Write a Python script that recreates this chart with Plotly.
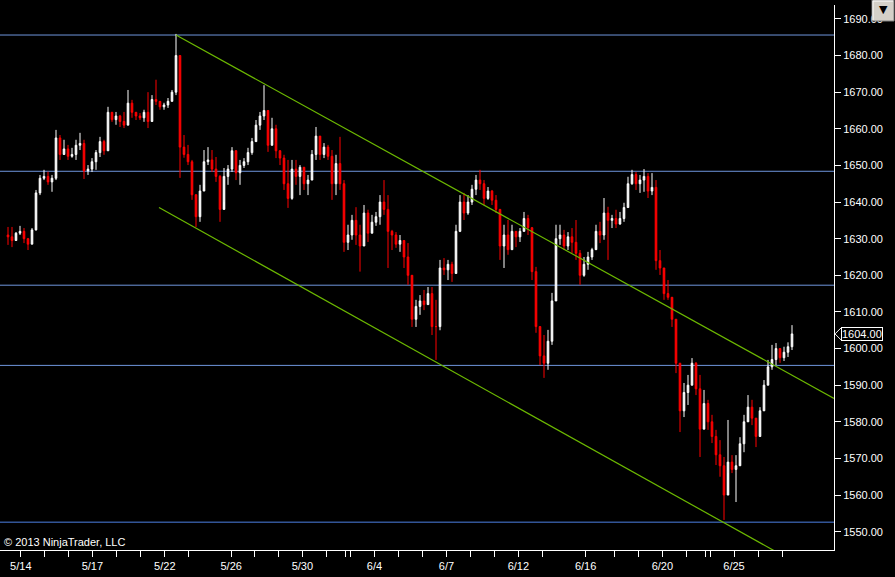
import plotly.graph_objects as go

# ES futures, 4-hour bars, 5/13 .. 6/27
highs = [
    1633.2, 1633.2, 1631.8, 1633.5, 1632.9, 1630.2, 1632.9, 1643.3, 1647.4, 1648.8,
    1648.3, 1647.4, 1659.7, 1658.3, 1657.0, 1655.6, 1654.8, 1657.0, 1658.9, 1657.0,
    1650.1, 1652.0, 1654.2, 1657.8, 1657.0, 1666.0, 1664.6, 1664.6, 1663.8, 1664.6,
    1670.6, 1667.9, 1664.6,
    1664.3, 1665.2, 1670.0, 1669.2, 1673.4, 1667.1, 1667.1, 1668.4, 1670.6, 1685.9,
    1680.0, 1658.3, 1655.6, 1651.5, 1641.9, 1644.7, 1654.2, 1655.0, 1654.2, 1652.3,
    1647.4, 1649.3, 1650.1, 1655.0, 1654.2, 1651.5, 1652.0, 1654.8, 1657.5, 1662.4,
    1664.6, 1671.9, 1663.8, 1663.0,
    1661.1, 1654.2, 1652.9, 1651.5, 1651.5, 1651.5, 1650.1, 1648.8, 1647.4, 1654.2,
    1660.5, 1657.0, 1656.1, 1655.6, 1654.2, 1652.9, 1657.8, 1646.0, 1633.8, 1636.5,
    1638.6, 1633.8, 1639.2, 1637.9, 1636.5, 1637.3, 1641.9, 1646.0, 1641.9, 1632.4,
    1631.8, 1631.0, 1628.8,
    1628.8, 1619.6, 1613.3, 1614.6, 1616.0, 1616.8, 1616.8, 1613.3, 1624.2, 1624.7,
    1624.2, 1623.7, 1633.8, 1641.9, 1642.5, 1641.9, 1644.7, 1647.4, 1648.8, 1646.0,
    1644.1, 1643.3, 1641.9, 1637.9, 1633.8, 1635.1, 1633.8, 1631.6, 1632.9, 1637.3,
    1636.5, 1633.2, 1622.3, 1606.0,
    1603.7, 1605.1, 1615.2, 1633.8, 1633.8, 1632.4, 1631.8, 1632.9, 1635.1, 1626.9,
    1625.0, 1626.4, 1627.5, 1633.8, 1634.6, 1641.1, 1638.7, 1636.5, 1637.9, 1637.3,
    1639.8, 1646.9, 1648.8, 1648.2, 1647.4, 1649.0, 1647.9, 1647.9, 1646.0, 1626.9,
    1619.6, 1618.7, 1613.3, 1608.0, 1596.0,
    1590.6, 1592.8, 1597.4, 1596.3, 1592.8, 1588.7, 1586.0, 1581.9, 1577.8, 1575.0,
    1570.4, 1580.5, 1570.9, 1570.9, 1575.8, 1581.9, 1587.3, 1586.0, 1580.5, 1584.0,
    1591.4, 1596.9, 1601.0, 1601.5, 1599.6, 1600.5, 1601.7, 1606.4,
]
lows = [
    1628.3, 1627.7, 1629.7, 1631.0, 1628.8, 1626.9, 1628.5, 1632.2, 1641.9, 1646.0,
    1644.7, 1642.8, 1646.0, 1651.5, 1652.9, 1651.5, 1652.1, 1651.5, 1654.2, 1646.3,
    1647.4, 1648.2, 1648.8, 1652.3, 1652.9, 1654.0, 1661.9, 1661.1, 1660.5, 1660.2,
    1661.0, 1663.0, 1662.4,
    1662.4, 1661.9, 1660.2, 1662.4, 1666.5, 1665.2, 1665.2, 1665.7, 1667.9, 1669.2,
    1646.6, 1652.1, 1650.1, 1640.6, 1633.2, 1634.6, 1644.7, 1650.1, 1648.2, 1645.5,
    1634.6, 1640.0, 1644.7, 1648.2, 1646.0, 1644.7, 1649.3, 1650.1, 1652.9, 1657.0,
    1659.7, 1662.4, 1653.7, 1657.0,
    1652.0, 1650.1, 1643.3, 1638.4, 1640.6, 1644.7, 1641.9, 1643.3, 1641.9, 1646.9,
    1651.5, 1651.5, 1652.0, 1651.5, 1640.6, 1641.9, 1643.3, 1626.4, 1626.9, 1629.7,
    1628.3, 1621.0, 1628.0, 1629.1, 1632.9, 1633.5, 1633.8, 1636.5, 1622.0, 1626.9,
    1627.5, 1626.4, 1622.0,
    1617.4, 1605.9, 1605.9, 1609.2, 1610.5, 1611.9, 1603.7, 1596.9, 1605.0, 1620.1,
    1618.7, 1618.2, 1621.5, 1631.8, 1635.1, 1636.5, 1639.2, 1641.9, 1643.3, 1639.2,
    1640.6, 1639.2, 1637.0, 1624.2, 1622.0, 1625.6, 1626.9, 1627.7, 1629.1, 1632.4,
    1631.0, 1618.7, 1604.3, 1595.5,
    1592.0, 1594.2, 1601.0, 1616.0, 1628.3, 1626.9, 1626.9, 1626.1, 1624.2, 1617.4,
    1619.6, 1621.5, 1624.2, 1628.3, 1628.8, 1629.7, 1624.2, 1632.9, 1632.9, 1633.8,
    1634.6, 1638.5, 1644.7, 1643.3, 1642.5, 1642.8, 1641.1, 1641.9, 1621.5, 1620.1,
    1613.3, 1613.3, 1605.9, 1593.3, 1577.2,
    1581.3, 1584.6, 1590.1, 1587.3, 1570.4, 1579.1, 1577.8, 1574.2, 1568.2, 1565.0,
    1553.2, 1566.0, 1566.0, 1558.1, 1569.6, 1571.7, 1580.5, 1579.1, 1573.1, 1575.9,
    1583.2, 1590.0, 1594.2, 1595.5, 1596.1, 1596.6, 1597.7, 1599.6,
]
closes = [
    1630.5, 1629.5, 1631.5, 1632.0, 1630.0, 1628.5, 1632.4, 1642.5, 1646.5, 1647.0,
    1645.5, 1646.5, 1657.5, 1653.0, 1654.5, 1652.5, 1653.0, 1655.5, 1656.0, 1648.5,
    1649.0, 1651.0, 1653.5, 1656.5, 1654.0, 1664.5, 1662.5, 1663.5, 1662.0, 1661.0,
    1667.0, 1664.5, 1663.5,
    1663.0, 1664.5, 1662.0, 1668.0, 1667.5, 1666.0, 1666.5, 1667.5, 1670.0, 1680.0,
    1655.0, 1653.0, 1651.0, 1642.0, 1636.0, 1643.0, 1651.0, 1651.5, 1649.0, 1647.0,
    1638.0, 1647.0, 1649.0, 1654.0, 1648.0, 1650.0, 1651.0, 1653.5, 1656.5, 1661.0,
    1663.5, 1665.0, 1655.5, 1660.0,
    1654.0, 1652.0, 1645.0, 1641.0, 1649.0, 1647.0, 1649.5, 1645.0, 1646.0, 1653.0,
    1658.0, 1653.0, 1655.0, 1652.5, 1645.0, 1650.5, 1645.0, 1629.0, 1631.0, 1635.0,
    1631.0, 1628.0, 1637.0, 1631.5, 1634.5, 1636.0, 1640.0, 1638.0, 1632.0, 1631.0,
    1628.5, 1629.5, 1625.0,
    1620.0, 1608.0, 1611.5, 1613.0, 1612.0, 1615.0, 1606.0, 1606.0, 1622.0, 1621.5,
    1623.0, 1620.5, 1632.0, 1640.0, 1637.0, 1640.0, 1643.5, 1646.0, 1645.0, 1641.0,
    1643.0, 1640.5, 1638.0, 1628.0, 1631.0, 1627.0, 1632.0, 1630.5, 1632.0, 1635.5,
    1633.0, 1621.0, 1606.0, 1598.0,
    1596.0, 1602.0, 1613.0, 1630.0, 1631.0, 1628.0, 1630.5, 1629.0, 1626.0, 1620.0,
    1623.0, 1625.0, 1627.0, 1632.0, 1631.0, 1637.0, 1635.0, 1635.5, 1634.0, 1635.5,
    1638.5, 1645.0, 1647.5, 1645.0, 1646.0, 1647.0, 1643.0, 1644.0, 1624.0, 1622.0,
    1615.0, 1614.0, 1608.0, 1596.0, 1583.0,
    1588.0, 1590.0, 1596.0, 1589.0, 1578.0, 1585.0, 1580.0, 1576.0, 1571.0, 1568.0,
    1560.0, 1569.0, 1567.0, 1568.0, 1574.0, 1580.0, 1584.0, 1581.0, 1576.0, 1583.0,
    1590.0, 1595.0, 1597.0, 1600.0, 1597.5, 1599.0, 1600.5, 1604.0,
]
first_open = 1631.0
opens = [first_open] + closes[:-1]
bars = list(range(len(closes)))

# day separators on the time axis (bar positions) and their labels
tick_bars = [3.2, 9.1, 15.1, 21.1, 27.1, 33.1, 39.2, 45.2, 55.8, 61.6, 67.6, 73.6,
             79.6, 84.4, 85.6, 91.6, 97.6, 103.6, 109.6, 115.7, 121.7, 127.6, 133.6,
             144.4, 151.6, 157.6, 163.6, 169.6, 174.4, 175.6, 181.5, 187.7, 193.7]
tick_text = ["5/14", "", "", "5/17", "", "", "5/22", "", "5/26", "", "", "5/30",
             "", "", "", "6/4", "", "", "6/7", "", "", "6/12", "",
             "6/16", "", "", "6/20", "", "", "", "6/25", "", ""]

# drawing objects
hline_levels = [1685.6, 1648.4, 1617.3, 1595.4]
support_level = 1552.6
trend_upper_bar = [42, 206.5]
trend_upper_price = [1685.6, 1586.4]
trend_lower_bar = [37.75, 206.5]
trend_lower_price = [1638.5, 1535.7]

W, H = 895, 577
ML, MR, MT, MB = 0, 61, 5, 27
PW, PH = W - ML - MR, H - MT - MB
Y_RANGE = [1545.0, 1693.8]
FONT = "Liberation Sans, Arial, sans-serif"


def px_x(px):
    return (px - ML) / PW


def px_y(py):
    return (H - MB - py) / PH


fig = go.Figure()

fig.add_trace(go.Scatter(x=trend_upper_bar, y=trend_upper_price, mode="lines",
                         line=dict(color="#6CB800", width=1.2), hoverinfo="skip"))
fig.add_trace(go.Scatter(x=trend_lower_bar, y=trend_lower_price, mode="lines",
                         line=dict(color="#6CB800", width=1.2), hoverinfo="skip"))

fig.add_trace(go.Candlestick(
    x=bars, open=opens, high=highs, low=lows, close=closes,
    increasing=dict(line=dict(color="white", width=1), fillcolor="white"),
    decreasing=dict(line=dict(color="#FF0000", width=1), fillcolor="#FF0000"),
    whiskerwidth=0,
))

shapes = []
for lvl in hline_levels:
    shapes.append(dict(type="line", xref="paper", yref="y", x0=0, x1=1, y0=lvl, y1=lvl,
                       line=dict(color="#6E95DC", width=1), layer="below"))
shapes.append(dict(type="line", xref="paper", yref="y", x0=0, x1=1,
                   y0=support_level, y1=support_level,
                   line=dict(color="#4C80E4", width=1), layer="below"))

# last price marker pointer
last = closes[-1]
half = 6 / PH * (Y_RANGE[1] - Y_RANGE[0])
shapes.append(dict(type="path", xref="paper", yref="y",
                   path=f"M {px_x(841)},{last + half} L {px_x(835)},{last} L {px_x(841)},{last - half}",
                   line=dict(color="white", width=1)))

# chart options dropdown button (windows-style bevel)
shapes.append(dict(type="rect", xref="paper", yref="paper",
                   x0=px_x(872), x1=px_x(894), y0=px_y(21), y1=px_y(0),
                   fillcolor="#D4D0C8", line=dict(color="#808080", width=1), layer="above"))
shapes.append(dict(type="path", xref="paper", yref="paper", layer="above",
                   path=f"M {px_x(873)},{px_y(20)} L {px_x(873)},{px_y(1)} L {px_x(893)},{px_y(1)}",
                   line=dict(color="white", width=1)))

annotations = [
    dict(text="© 2013 NinjaTrader, LLC", xref="paper", yref="paper", x=0, y=0,
         xanchor="left", yanchor="bottom", xshift=2, yshift=0, showarrow=False,
         font=dict(family=FONT, size=11, color="white")),
    dict(text=f"{last:.2f}", xref="paper", yref="y", x=px_x(841), y=last,
         xanchor="left", yanchor="middle", showarrow=False, bgcolor="black",
         bordercolor="white", borderwidth=1, borderpad=0,
         font=dict(family=FONT, size=11, color="white")),
    dict(text="▼", xref="paper", yref="paper", x=px_x(883), y=px_y(10),
         xanchor="center", yanchor="middle", showarrow=False,
         font=dict(family="DejaVu Sans", size=11, color="black")),
]

fig.update_layout(
    width=W, height=H,
    margin=dict(l=ML, r=MR, t=MT, b=MB),
    paper_bgcolor="black", plot_bgcolor="black",
    showlegend=False, boxgap=0.42,
    font=dict(family=FONT, size=11, color="white"),
    shapes=shapes, annotations=annotations,
    xaxis=dict(
        range=[-2, 206.5], rangeslider=dict(visible=False),
        showgrid=False, zeroline=False,
        showline=True, linecolor="white", linewidth=1,
        tickmode="array", tickvals=tick_bars, ticktext=tick_text,
        ticks="outside", ticklen=6, tickcolor="white", tickwidth=1,
        tickfont=dict(family=FONT, size=11, color="white"),
    ),
    yaxis=dict(
        range=Y_RANGE, side="right",
        showgrid=False, zeroline=False,
        showline=True, linecolor="white", linewidth=1,
        tickmode="linear", tick0=1550, dtick=10, tickformat=".2f",
        ticks="outside", ticklen=6, tickcolor="white", tickwidth=1,
        tickfont=dict(family=FONT, size=11, color="white"),
    ),
)

fig.write_html("out.html", config={"displayModeBar": False},
               post_script="document.body.style.margin='0px';"
               "document.body.style.background='black';")
